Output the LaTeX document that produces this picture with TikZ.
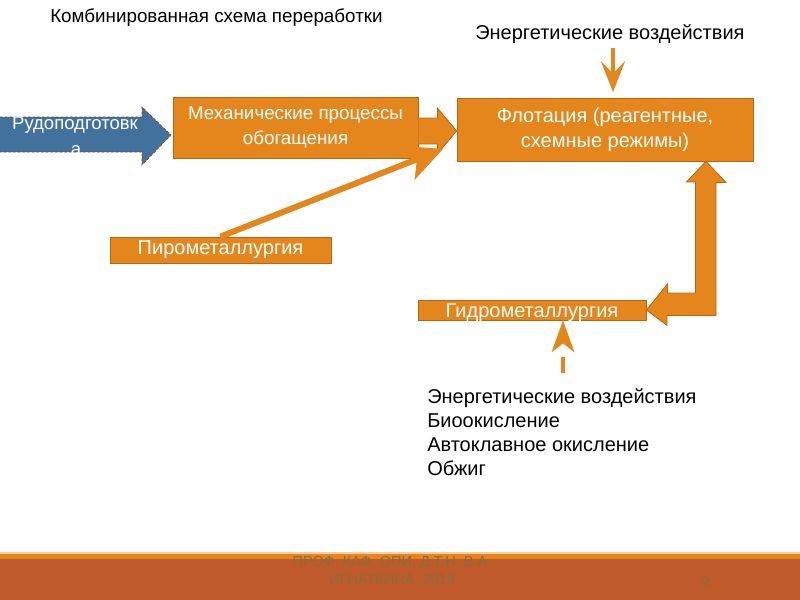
\documentclass[tikz,border=0pt]{standalone}
\usepackage{fontspec}
\setmainfont{Liberation Sans}
\usetikzlibrary{arrows.meta,calc}
\definecolor{orfill}{HTML}{E4861B}
\definecolor{ordraw}{HTML}{B8650F}
\definecolor{blfill}{HTML}{41719C}
\definecolor{rust}{HTML}{BE5A2C}
\definecolor{foottext}{HTML}{8E6B3C}
\tikzset{
  obox/.style={draw=ordraw, fill=orfill, line width=0.6pt, inner sep=0pt, text=white, align=center},
  sbox/.style={draw=ordraw, fill=orfill, line width=0.6pt, inner sep=0pt, text=white, font=\fontsize{15pt}{17pt}\selectfont},
  blockarrow/.style={draw=ordraw, fill=orfill, line width=0.6pt, line join=miter},
  plain/.style={inner sep=0pt, text=black},
}
\begin{document}
\begin{tikzpicture}[x=0.75pt,y=-0.75pt]
\useasboundingbox (0,0) rectangle (800,600);
% footer
\fill[rust] (0,559) rectangle (800,600);
\fill[orfill] (0,553) rectangle (800,559);
\fill[orfill!40] (0,552) rectangle (800,553.5);
\node[inner sep=0pt, text=foottext, align=center, font=\fontsize{10.9pt}{13.5pt}\selectfont] (foot) at (392,571) {ПРОФ. КАФ. ОПИ, Д.Т.Н. В.А.\\ИГНАТКИНА, 2019};
\node[inner sep=0pt, text=foottext, font=\fontsize{10.9pt}{12pt}\selectfont] (pg) at (706,581) {2};

% title texts
\node[plain, anchor=west, font=\fontsize{14.1pt}{17pt}\selectfont] (title) at (50,17.5) {Комбинированная схема переработки};
\node[plain, anchor=west, font=\fontsize{15pt}{18pt}\selectfont] (etop) at (475,34) {Энергетические воздействия};

% boxes
\node[obox, font=\fontsize{14.1pt}{18.5pt}\selectfont, minimum width=183.75pt, minimum height=45.75pt] (mech) at (295.5,127.5) {Механические процессы\\обогащения};
\node[obox, font=\fontsize{15pt}{18.5pt}\selectfont, minimum width=222pt, minimum height=47.25pt] (flot) at (605,129.5) {Флотация (реагентные,\\схемные режимы)};
\node[sbox, minimum width=165.75pt, minimum height=19.5pt] (pyro) at (220.5,250) {Пирометаллургия};
\node[sbox, minimum width=171pt, minimum height=15pt, text height=10.5pt, text depth=0pt] (hydro) at (532,310) {Гидрометаллургия};

% blue arrow
\fill[blfill] (0,117) -- (142,117) -- (142,107) -- (171,135) -- (142,165) -- (142,152) -- (0,152) -- cycle;
\draw[ordraw!70!black, dashed, line width=0.5pt, dash pattern=on 2pt off 1.5pt] (0,117) -- (142,117) -- (142,107) -- (171,135) -- (142,165) -- (142,152) -- (0,152);
\node[inner sep=0pt, text=white, font=\fontsize{13.9pt}{15pt}\selectfont] (rudo) at (75,125) {Рудоподготовк};
\node[inner sep=0pt, text=white, font=\fontsize{13.9pt}{15pt}\selectfont] (rudoa) at (76,151) {а};

% mech -> flot block arrow
\draw[blockarrow] ($(mech.east)+(0,-9.5)$) -- ++(19,0) -- ++(0,-10) -- ($(flot.west)+(0,1.5)$) -- ($(mech.east)+(19,26.5)$) -- ++(0,-10) -- ($(mech.east)+(0,16.5)$);

% pyro -> mech arrow
\coordinate (ptip) at (443,149);
\draw[orfill, line width=4.5pt, -{Stealth[length=28pt,width=27pt,inset=7pt]}] (pyro.north) -- (ptip);

% top energy arrow
\coordinate (eTopStart) at (613,48);
\coordinate (eTopTip) at (613,92);
\draw[orfill, line width=3pt, -{Stealth[length=23pt,width=18pt,inset=9pt]}] (eTopStart) -- (eTopTip);

% bent arrow hydro <- flot
\draw[blockarrow] (hydro.east) -- ++(21,-26) -- ++(0,9) -- ++(28,0) -- ++(0,-111) -- ++(-9,0) -- ($(flot.south)+(101,0)$) -- ++(20,21) -- ++(-10,0) -- ++(0,133) -- ++(-49,0) -- ++(0,10) -- cycle;

% lower energy arrow
\coordinate (eLowStart) at (563,373);
\coordinate (eLowShaft) at (563,357);
\draw[orfill, line width=3pt] (eLowStart) -- (eLowShaft);
\fill[orfill] (hydro.south -| 563,0) -- ++(11.5,32) -- ++(-11.5,-9) -- ++(-11.5,9) -- cycle;

% list
\node[plain, anchor=north west, align=left, font=\fontsize{15pt}{18pt}\selectfont] (list) at (427,388) {Энергетические воздействия\\Биоокисление\\Автоклавное окисление\\Обжиг};
\end{tikzpicture}
\end{document}
